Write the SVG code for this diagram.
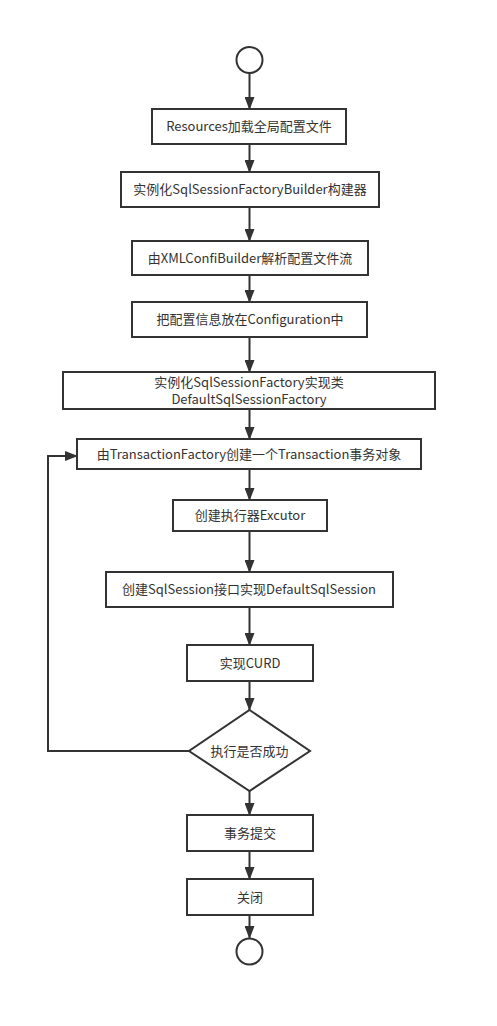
<svg xmlns="http://www.w3.org/2000/svg" width="497" height="1026" viewBox="0 0 497 1026">
<defs>
<style>
.n{fill:#fff;stroke:#333;stroke-width:2}
.t{font-family:"Noto Sans CJK SC","Liberation Sans",sans-serif;font-size:13px;fill:#333;text-anchor:middle}
.c{fill:none;stroke:#333;stroke-width:2}
</style>
<marker id="ah" viewBox="0 0 13 10" refX="12" refY="5" markerWidth="13" markerHeight="10" markerUnits="userSpaceOnUse" orient="auto">
<path d="M0,0 L13,5 L0,10 z" fill="#333"/>
</marker>
</defs>
<rect width="497" height="1026" fill="#fff"/>
<g id="connectors">
<path class="c" marker-end="url(#ah)" d="M249.5,73 V109"/>
<path class="c" marker-end="url(#ah)" d="M249.5,144 V172"/>
<path class="c" marker-end="url(#ah)" d="M249.5,207 V241"/>
<path class="c" marker-end="url(#ah)" d="M249.5,275 V302"/>
<path class="c" marker-end="url(#ah)" d="M249.5,337 V372"/>
<path class="c" marker-end="url(#ah)" d="M249.5,409 V439"/>
<path class="c" marker-end="url(#ah)" d="M249.5,469 V500"/>
<path class="c" marker-end="url(#ah)" d="M249.5,531 V572"/>
<path class="c" marker-end="url(#ah)" d="M249.5,607 V645"/>
<path class="c" marker-end="url(#ah)" d="M249.5,681 V710"/>
<path class="c" marker-end="url(#ah)" d="M249.5,791 V815"/>
<path class="c" marker-end="url(#ah)" d="M249.5,851 V879"/>
<path class="c" marker-end="url(#ah)" d="M249.5,915 V938"/>
<path class="c" marker-end="url(#ah)" d="M189,751 H48 V456 H77"/>
</g>
<g id="start"><circle class="n" cx="249.5" cy="60" r="13"/></g>
<g id="n1"><rect class="n" x="152" y="109" width="194" height="35"/><text class="t" x="249" y="131">Resources加载全局配置文件</text></g>
<g id="n2"><rect class="n" x="121" y="172" width="258" height="35"/><text class="t" x="250" y="194">实例化SqlSessionFactoryBuilder构建器</text></g>
<g id="n3"><rect class="n" x="132" y="241" width="236" height="34"/><text class="t" x="250" y="263">由XMLConfiBuilder解析配置文件流</text></g>
<g id="n4"><rect class="n" x="132" y="302" width="235" height="35"/><text class="t" x="250" y="324">把配置信息放在Configuration中</text></g>
<g id="n5"><rect class="n" x="63" y="372" width="372" height="37"/><text class="t" x="249" y="387">实例化SqlSessionFactory实现类</text><text class="t" x="249" y="404">DefaultSqlSessionFactory</text></g>
<g id="n6"><rect class="n" x="77" y="439" width="344" height="30"/><text class="t" x="249" y="459">由TransactionFactory创建一个Transaction事务对象</text></g>
<g id="n7"><rect class="n" x="173" y="500" width="154" height="31"/><text class="t" x="250" y="520">创建执行器Excutor</text></g>
<g id="n8"><rect class="n" x="106" y="572" width="287" height="35"/><text class="t" x="249" y="594">创建SqlSession接口实现DefaultSqlSession</text></g>
<g id="n9"><rect class="n" x="187" y="645" width="126" height="36"/><text class="t" x="250" y="668">实现CURD</text></g>
<g id="d1"><path class="n" d="M249.5,710 L310,751 L249.5,791 L189,751 Z"/><text class="t" x="249.5" y="755.5">执行是否成功</text></g>
<g id="n10"><rect class="n" x="187" y="815" width="126" height="36"/><text class="t" x="250" y="838">事务提交</text></g>
<g id="n11"><rect class="n" x="187" y="879" width="126" height="36"/><text class="t" x="250" y="902">关闭</text></g>
<g id="end"><circle class="n" cx="249.5" cy="951.5" r="13"/></g>
</svg>
